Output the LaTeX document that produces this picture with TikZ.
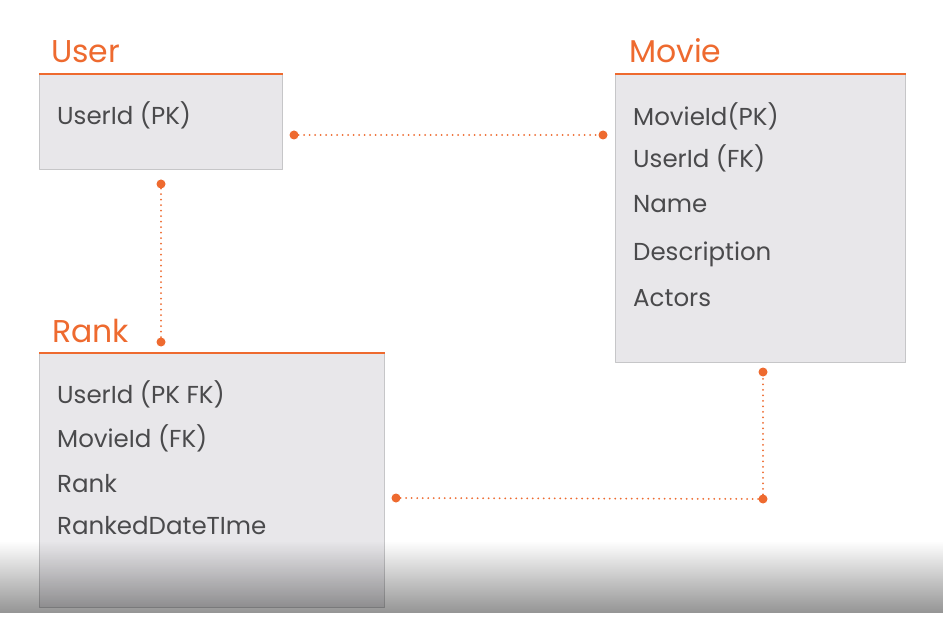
\documentclass[tikz,border=0pt]{standalone}
\usepackage{fontspec}
\setmainfont{Poppins}
\usetikzlibrary{fadings}
\definecolor{accent}{HTML}{EE6A2F}
\definecolor{boxfill}{HTML}{E8E7EA}
\definecolor{boxline}{HTML}{C6C6C8}
\definecolor{fieldtext}{HTML}{4A4A4C}

\begin{document}
\begin{tikzpicture}[
		x=1pt,
		y=-1pt,
		line cap=round,
		line join=round,
		entity/.style={
			draw=boxline,
			fill=boxfill,
			line width=1.2pt,
			anchor=north west,
			inner sep=0pt
		},
		headline/.style={
			draw=accent,
			line width=2pt,
			line cap=butt
		},
		title/.style={
			anchor=base west,
			inner sep=0pt,
			text=accent,
			font=\fontsize{31.5}{36}\selectfont
		},
		field/.style={
			anchor=base west,
			inner sep=0pt,
			text=fieldtext,
			font=\fontsize{24.5}{29}\selectfont
		},
		jointdot/.style={
			circle,
			fill=accent,
			inner sep=0pt,
			minimum size=9pt
		},
		link/.style={
			draw=accent,
			line width=2pt,
			dash pattern=on 0pt off 5.5pt
		}
		]
		
		% background
		\fill[white] (0,0) rectangle (945,620);
		
		% entity boxes
		\node[entity, minimum width=243pt, minimum height=95pt]  (user)  at (39,74)  {};
		\node[entity, minimum width=290pt, minimum height=288pt] (movie) at (615,74) {};
		\node[entity, minimum width=345pt, minimum height=254pt] (rank)  at (39,353) {};
		
		% orange header rules
		\draw[headline] (user.north west)  -- (user.north east);
		\draw[headline] (movie.north west) -- (movie.north east);
		\draw[headline] (rank.north west)  -- (rank.north east);
		
		% titles
		\node[title] (userT)  at (51,63)  {User};
		\node[title] (movieT) at (629,63) {Movie};
		\node[title] (rankT)  at (52,342) {Rank};
		
		% user fields
		\node[field] (u1) at (57,125) {UserId (PK)};
		
		% movie fields
		\node[field] (m1) at (633,126) {MovieId(PK)};
		\node[field] (m2) at (633,168) {UserId (FK)};
		\node[field] (m3) at (633,213) {Name};
		\node[field] (m4) at (633,261) {Description};
		\node[field] (m5) at (633,306) {Actors};
		
		% rank fields
		\node[field] (r1) at (57,403) {UserId (PK FK)};
		\node[field] (r2) at (57,447) {MovieId (FK)};
		\node[field] (r3) at (57,492) {Rank};
		\node[field] (r4) at (57,534) {RankedDateTIme};
		
		% relation end points
		\node[jointdot] (umA) at (294,135) {};
		\node[jointdot] (umB) at (603,135) {};
		\node[jointdot] (urA) at (161,184) {};
		\node[jointdot] (urB) at (161,342) {};
		\node[jointdot] (rmA) at (396,498) {};
		\node[jointdot] (rmC) at (763,499) {};
		\node[jointdot] (rmB) at (763,372) {};
		
		% relations
		\draw[link] (umA) -- (umB);
		\draw[link] (urA) -- (urB);
		\draw[link] (rmA) -- (rmC) -- (rmB);
		
		% bottom shadow
		\fill[black, opacity=0.42, path fading=north] (0,541) rectangle (945,613);
	\end{tikzpicture}
\end{document}
